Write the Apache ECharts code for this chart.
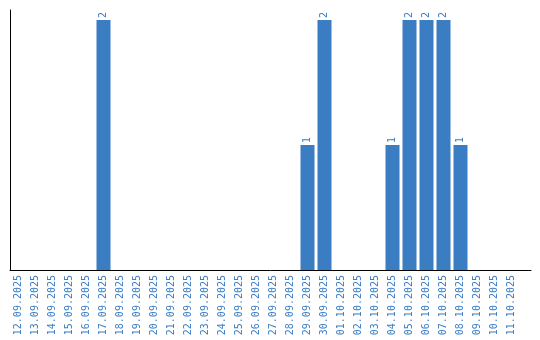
<!DOCTYPE html>
<html><head><meta charset="utf-8">
<script src="https://cdn.jsdelivr.net/npm/echarts@6/dist/echarts.min.js"></script>
<style>html,body{margin:0;padding:0;background:#fff}#c{width:540px;height:340px}</style>
</head><body><div id="c"></div>
<script>
const categories = ['12.09.2025','13.09.2025','14.09.2025','15.09.2025','16.09.2025','17.09.2025','18.09.2025','19.09.2025','20.09.2025','21.09.2025','22.09.2025','23.09.2025','24.09.2025','25.09.2025','26.09.2025','27.09.2025','28.09.2025','29.09.2025','30.09.2025','01.10.2025','02.10.2025','03.10.2025','04.10.2025','05.10.2025','06.10.2025','07.10.2025','08.10.2025','09.10.2025','10.10.2025','11.10.2025'];
const values = [0,0,0,0,0,2,0,0,0,0,0,0,0,0,0,0,0,1,2,0,0,0,1,2,2,2,1,0,0,0];
const blue = '#3a7dc2';
const font = 'DejaVu Sans Mono';
const chart = echarts.init(document.getElementById('c'), null, {renderer:'canvas'});
chart.setOption({
  animation:false,
  grid:[{left:10, top:10, width:510, bottom:70},{left:10, top:10, width:521, bottom:70}],
  xAxis:[{
    type:'category', data:categories, gridIndex:0,
    axisLine:{show:false}, axisTick:{show:false},
    axisLabel:{rotate:90, color:blue, fontSize:10, fontFamily:font, margin:5, interval:0}
  },{
    type:'value', gridIndex:1, min:0, max:1,
    axisLine:{show:true, onZero:false, lineStyle:{color:'#000', width:1}},
    axisTick:{show:false}, axisLabel:{show:false}, splitLine:{show:false}
  }],
  yAxis:[{
    type:'value', min:0, max:2.08, gridIndex:0,
    axisLine:{show:true, lineStyle:{color:'#000', width:1}},
    axisTick:{show:false}, axisLabel:{show:false}, splitLine:{show:false}
  },{
    type:'value', gridIndex:1, show:false, min:0, max:1
  }],
  series:[{
    type:'bar', data:values.map(v=>v===0?null:v), barWidth:14,
    itemStyle:{color:blue},
    label:{show:true, position:'top', rotate:90, align:'left', verticalAlign:'middle',
      distance:2, color:blue, fontSize:10, fontFamily:font}
  }]
});
</script></body></html>
